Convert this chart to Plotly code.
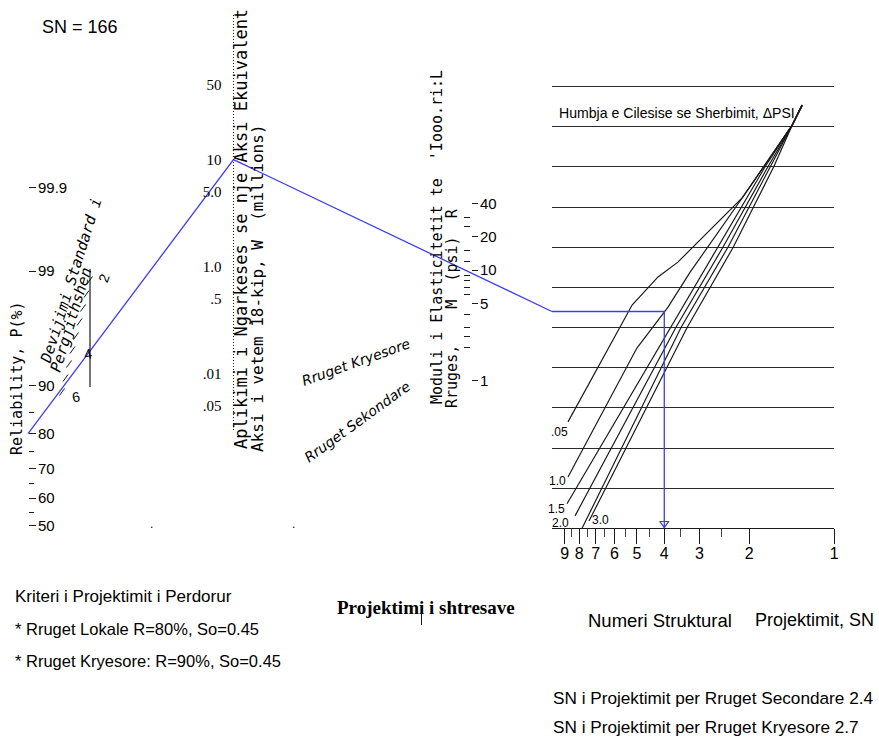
import math
from statistics import NormalDist
import plotly.graph_objects as go

sn_result = 166
reliability_ticks = [99.9, 99, 90, 80, 70, 60, 50]
reliability_minor = [85, 75, 65, 55]
w18_ticks = [50, 10, 5, 1, 0.5, 0.1, 0.05]
w18_labels = ["50", "10", "5.0", "1.0", ".5", ".01", ".05"]
mr_ticks = [40, 20, 10, 5, 1]
mr_minor = [30, 25, 15, 12, 9, 8, 7, 6, 4, 3, 2.5, 2]
so_ticks = [2, 2.5, 3, 3.5, 4, 4.5, 5, 5.5, 6]
so_labels = [2, 4, 6]
sn_ticks = [9, 8, 7, 6, 5, 4, 3, 2, 1]
sn_minor = [8.5, 7.5, 6.5, 5.5, 4.5, 3.5, 2.5]
psi_grid_levels = list(range(12))
dpsi_names = [".05", "1.0", "1.5", "2.0", "2.5", "3.0"]
dpsi_sn = [
    [8.77, 5.20, 4.21, 3.58, 2.12, 1.41, 1.30],
    [8.77, 5.00, 3.88, 3.24, 1.99, 1.41, 1.30],
    [8.84, 3.79, 2.58, 1.76, 1.41, 1.30],
    [8.28, 3.64, 2.48, 1.72, 1.41, 1.30],
    [7.82, 3.49, 2.38, 1.68, 1.41, 1.30],
    [7.39, 3.32, 2.28, 1.64, 1.41, 1.30],
]
dpsi_level = [
    [2.65, 5.56, 6.26, 6.63, 8.23, 10.04, 10.54],
    [1.28, 4.49, 5.51, 6.38, 8.50, 10.04, 10.54],
    [0.61, 5, 7, 9, 10.04, 10.54],
    [0.31, 5, 7, 9, 10.04, 10.54],
    [0.00, 5, 7, 9, 10.04, 10.54],
    [0.18, 5, 7, 9, 10.04, 10.54],
]
design_R = 80
design_W18 = 10
design_entry_level = 5.4
design_SN = 4

# ---------------- geometry / scales ----------------
W, H = 879, 741
R_X, R_Y0, R_K = 28, 525.8, 109.5          # reliability (normal z) scale
W_X, W_Y0, W_K = 233.5, 266.5, 106.9       # W18 log scale
MR_XMAJ, MR_XMIN, MR_Y0, MR_K = 471, 463, 380.7, 110.5
SN_X1, SN_K = 834.3, 282.4                 # SN log scale (pixel of SN=1)
LV_Y0, LV_K = 528.3, 40.15                 # design-chart reference lines
SO_X0, SO_Y0, SO_DX, SO_DY = 90, 280, -7.0, 28.0

ND = NormalDist()
def z(p): return ND.inv_cdf(p / 100.0)
def px_R(p): return R_Y0 - R_K * z(p)
def px_W(w): return W_Y0 - W_K * math.log10(w)
def px_SN(s): return SN_X1 - SN_K * math.log10(s)
def px_LV(l): return LV_Y0 - LV_K * l
def so_pos(s): return SO_X0 + SO_DX * (s - 2), SO_Y0 + SO_DY * (s - 2)

SANS = "Liberation Sans, Arial, sans-serif"
MONO = "DejaVu Sans Mono, Liberation Mono, monospace"
SERIF = "Liberation Serif, DejaVu Serif, serif"
BLUE = "#3c3cf2"
INK = "#1a1a1a"

fig = go.Figure()
hid = dict(showlegend=False, hoverinfo="skip")

# design-chart curves
for sn, lv in zip(dpsi_sn, dpsi_level):
    fig.add_trace(go.Scatter(x=sn, y=lv, xaxis="x2", yaxis="y2", mode="lines",
                             line=dict(color=INK, width=1.2), **hid))

# design path inside the chart
fig.add_trace(go.Scatter(x=[10, design_SN, design_SN],
                         y=[design_entry_level, design_entry_level, 0],
                         xaxis="x2", yaxis="y2", mode="lines",
                         line=dict(color=BLUE, width=1.3), **hid))
fig.add_trace(go.Scatter(x=[design_SN], y=[0.12], xaxis="x2", yaxis="y2", mode="markers",
                         marker=dict(symbol="triangle-down-open", size=8,
                                     color=BLUE, line=dict(width=1.2, color=BLUE)), **hid))

# design path across the nomograph scales
fig.add_trace(go.Scatter(x=[R_X, W_X, px_SN(10)],
                         y=[px_R(design_R), px_W(design_W18), px_LV(design_entry_level)],
                         mode="lines", line=dict(color=BLUE, width=1.3), **hid))

# So scale (slanted ticks)
sx, sy = [], []
for s in so_ticks:
    x0, y0 = so_pos(s)
    sx += [x0 - 2.5, x0 + 2.5, None]
    sy += [y0 + 3.5, y0 - 3.5, None]
fig.add_trace(go.Scatter(x=sx, y=sy, mode="lines", line=dict(color=INK, width=1), **hid))

# dummy traces so the free axes are drawn
for ya in ["y3", "y4", "y5", "y6"]:
    fig.add_trace(go.Scatter(x=[None], y=[None], xaxis="x", yaxis=ya, **hid))

shapes = [
    dict(type="line", xref="x", yref="y", x0=W_X, x1=W_X, y0=15, y1=432,
         line=dict(color=INK, width=1, dash="1px,2px")),
    dict(type="line", xref="x", yref="y", x0=SO_X0, x1=SO_X0, y0=269, y1=387,
         line=dict(color=INK, width=1.2)),
    dict(type="line", xref="x", yref="y", x0=421.5, x1=421.5, y0=611, y1=625,
         line=dict(color=INK, width=1)),
]

ann = []
def A(text, x, y, size=16, family=SANS, xa="left", ya="middle", angle=0, **kw):
    ann.append(dict(text=text, x=x, y=y, xref="x", yref="y", showarrow=False,
                    xanchor=xa, yanchor=ya, textangle=angle,
                    font=dict(family=family, size=size, color="black"), **kw))

A(f"SN = {sn_result}", 40, 27, size=18)
A("Reliability, P(%)", 17, 378, size=15, family=MONO, xa="center", angle=-90)
A("<i>Devijimi Standard i</i>", 71, 281, size=15, family=MONO, xa="center", angle=-72.6)
A("<i>Pergjithshen</i>", 71, 320, size=15, family=MONO, xa="center", angle=-73)
so_label_shift = {2: (14, -2), 4: (12, 18), 6: (14, 5)}
for s in so_labels:
    x0, y0 = so_pos(s)
    dx, dy = so_label_shift[s]
    A(str(s), x0 + dx, y0 + dy, size=14, xa="center", angle=-70 if s == 2 else -10)
A("Aplikimi i Ngarkeses se nje Aksi Ekuivalent", 241, 229, size=17, family=MONO,
  xa="center", angle=-90)
A("Aksi i vetem 18-kip, W  (millions)", 257, 288, size=16, family=MONO,
  xa="center", angle=-90)
A("Moduli i Elasticitetit te  'Iooo.ri:L", 437, 237, size=15, family=MONO,
  xa="center", angle=-90)
A("Rruges,    M  (psi)  R", 452, 308, size=15, family=MONO, xa="center", angle=-90)
A("<i>Rruget Kryesore</i>", 356, 362, size=14, family="DejaVu Sans", xa="center", angle=-19.7)
A("<i>Rruget Sekondare</i>", 357, 422, size=14, family="DejaVu Sans", xa="center", angle=-36)
A("Humbja e Cilesise se Sherbimit, \u0394PSI", 557, 113, size=14.1)

lab_off = {".05": (2, 10, "right"), "1.0": (0, 4, "right"), "1.5": (0, 5, "right"),
           "2.0": (-4, 7, "right"), "3.0": (1, -1, "left")}
for name, sn, lv in zip(dpsi_names, dpsi_sn, dpsi_level):
    if name not in lab_off:
        continue
    dx, dy, xa = lab_off[name]
    A(name, px_SN(sn[0]) + dx, px_LV(lv[0]) + dy, size=12, xa=xa)

A("Numeri Struktural", 586, 620, size=18.5)
A("Projektimit, SN", 876, 620, size=18, xa="right")
A("Kriteri i Projektimit i Perdorur", 13, 596, size=17)
A("* Rruget Lokale R=80%, So=0.45", 13, 629, size=16.5)
A("* Rruget Kryesore: R=90%, So=0.45", 13, 661, size=16.5)
A("<b>Projektimi i shtresave</b>", 426, 607, size=19, family=SERIF, xa="center")
A("SN i Projektimit per Rruget Secondare 2.4", 551, 698, size=17.2)
A("SN i Projektimit per Rruget Kryesore 2.7", 551, 727, size=17.2)
A(".", 148, 524, size=12)
A(".", 290, 524, size=12)

tickfont = dict(family=SANS, size=15, color="black")
base_free = dict(overlaying="y", anchor="free", showgrid=False, zeroline=False,
                 showline=False, autorange=False, automargin=False)

fig.update_layout(
    width=W, height=H, autosize=False,
    margin=dict(l=0, r=0, t=0, b=0, pad=0, autoexpand=False),
    paper_bgcolor="white", plot_bgcolor="rgba(0,0,0,0)",
    xaxis=dict(range=[0, W], visible=False, domain=[0, 1], automargin=False),
    yaxis=dict(range=[H, 0], visible=False, domain=[0, 1], automargin=False),
    xaxis2=dict(type="log", range=[1, 0], domain=[px_SN(10) / W, SN_X1 / W], anchor="y2",
                automargin=False,
                showline=True, linecolor=INK, linewidth=1.2, showgrid=False, zeroline=False,
                ticks="outside", ticklen=15, tickwidth=1.2, tickcolor=INK,
                tickmode="array", tickvals=sn_ticks, ticktext=[str(v) for v in sn_ticks],
                ticklabelstandoff=-5,
                tickfont=dict(family=SANS, size=16, color="black"),
                minor=dict(ticks="outside", tickmode="array", tickvals=sn_minor,
                           ticklen=8, tickwidth=1, tickcolor="#444", showgrid=False)),
    yaxis2=dict(range=[0, LV_Y0 / LV_K], domain=[(H - LV_Y0) / H, 1], anchor="x2",
                automargin=False,
                showline=False, zeroline=False, showticklabels=False, ticks="",
                tickmode="array", tickvals=psi_grid_levels,
                showgrid=True, gridcolor="#2a2a2a", gridwidth=1.2),
    yaxis3=dict(base_free, position=R_X / W, side="right",
                range=[(R_Y0 - H) / R_K, R_Y0 / R_K],
                tickmode="array", tickvals=[z(p) for p in reliability_ticks],
                ticktext=[f"{p:g}" for p in reliability_ticks], ticklabelstandoff=-1,
                ticks="outside", ticklen=7, tickwidth=1.2, tickcolor=INK, tickfont=tickfont,
                minor=dict(ticks="outside", tickmode="array",
                           tickvals=[z(p) for p in reliability_minor],
                           ticklen=5, tickwidth=1.2, tickcolor=INK, showgrid=False)),
    yaxis4=dict(base_free, type="log", position=W_X / W, side="left",
                range=[(W_Y0 - H) / W_K, W_Y0 / W_K],
                tickmode="array", tickvals=w18_ticks, ticktext=w18_labels,
                ticks="outside", ticklen=9, tickcolor="rgba(0,0,0,0)",
                tickfont=dict(family=SERIF, size=15, color="black")),
    yaxis5=dict(base_free, type="log", position=MR_XMIN / W, side="right",
                range=[(MR_Y0 - H) / MR_K, MR_Y0 / MR_K],
                tickmode="array", tickvals=mr_minor, showticklabels=False,
                ticks="outside", ticklen=6, tickwidth=1, tickcolor=INK),
    yaxis6=dict(base_free, type="log", position=MR_XMAJ / W, side="right",
                range=[(MR_Y0 - H) / MR_K, MR_Y0 / MR_K],
                tickmode="array", tickvals=mr_ticks, ticktext=[str(v) for v in mr_ticks],
                ticklabelstandoff=-1,
                ticks="outside", ticklen=6, tickwidth=1.2, tickcolor=INK, tickfont=tickfont),
    shapes=shapes,
    annotations=ann,
)

fig.write_html("out.html", config={"displayModeBar": False, "responsive": False},
               post_script="document.body.style.margin='0';document.body.style.overflow='hidden';")
